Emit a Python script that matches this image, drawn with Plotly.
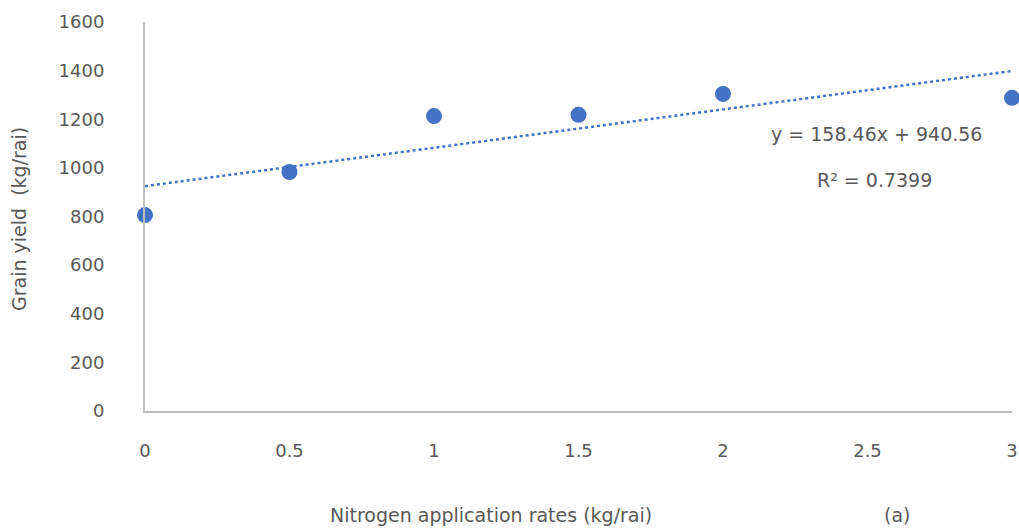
import numpy as np
import plotly.graph_objects as go

# Data
nitrogen_rates = [0, 0.5, 1, 1.5, 2, 3]
grain_yield = [806, 983, 1213, 1218, 1304, 1288]
x_ticks = [0, 0.5, 1, 1.5, 2, 2.5, 3]
x_tick_labels = ["0", "0.5", "1", "1.5", "2", "2.5", "3"]
y_ticks = [0, 200, 400, 600, 800, 1000, 1200, 1400, 1600]
equation_text = "y = 158.46x + 940.56"
r2_text = "R² = 0.7399"

# Linear trend fitted from data
slope, intercept = np.polyfit(nitrogen_rates, grain_yield, 1)
trend_x = [min(x_ticks), max(x_ticks)]
trend_y = [intercept + slope * v for v in trend_x]

FONT = "DejaVu Sans"
GRAY = "#595959"
BLUE = "#4472C4"

L, R, T, B = 145, 7, 22, 118
W, H = 1019, 529
PW, PH = W - L - R, H - T - B


def px(xp):
    return (xp - L) / PW


def py(yp):
    return (H - B - yp) / PH


fig = go.Figure()
fig.add_trace(go.Scatter(
    x=trend_x, y=trend_y, mode="lines",
    line=dict(color=BLUE, width=2.5, dash="dot"),
    hoverinfo="skip", showlegend=False, cliponaxis=False,
))
fig.add_trace(go.Scatter(
    x=nitrogen_rates, y=grain_yield, mode="markers",
    marker=dict(color=BLUE, size=16),
    showlegend=False, cliponaxis=False,
))

fig.update_layout(
    width=W, height=H,
    margin=dict(l=L, r=R, t=T, b=B, autoexpand=False),
    paper_bgcolor="white", plot_bgcolor="white",
    font=dict(family=FONT, size=18, color=GRAY),
    xaxis=dict(
        range=[0, 3], tickvals=x_ticks, ticktext=x_tick_labels,
        showgrid=False, zeroline=False, showline=True, automargin=False,
        linecolor="#bfbfbf", linewidth=2, ticks="",
        ticklabelstandoff=22, tickfont=dict(size=18, color=GRAY),
    ),
    yaxis=dict(
        range=[0, 1600], tickvals=y_ticks,
        showgrid=False, zeroline=False, showline=True, automargin=False,
        linecolor="#bfbfbf", linewidth=2, ticks="",
        ticklabelstandoff=35, tickfont=dict(size=18, color=GRAY),
    ),
    annotations=[
        dict(text="Nitrogen application rates (kg/rai)", xref="paper", yref="paper",
             x=px(491), y=py(515), showarrow=False,
             xanchor="center", yanchor="middle", font=dict(size=19, color=GRAY)),
        dict(text="(a)", xref="paper", yref="paper",
             x=px(897), y=py(515), showarrow=False,
             xanchor="center", yanchor="middle", font=dict(size=19, color=GRAY)),
        dict(text="Grain yield  (kg/rai)", xref="paper", yref="paper",
             x=px(19), y=py(219), showarrow=False, textangle=-90,
             xanchor="center", yanchor="middle", font=dict(size=19, color=GRAY)),
        dict(text=equation_text, xref="paper", yref="paper",
             x=px(876), y=py(134), showarrow=False,
             xanchor="center", yanchor="middle", font=dict(size=19, color=GRAY)),
        dict(text=r2_text, xref="paper", yref="paper",
             x=px(874), y=py(180), showarrow=False,
             xanchor="center", yanchor="middle", font=dict(size=19, color=GRAY)),
    ],
)

fig.write_html("out.html", config={"displayModeBar": False},
               post_script="document.body.style.margin='0';")
